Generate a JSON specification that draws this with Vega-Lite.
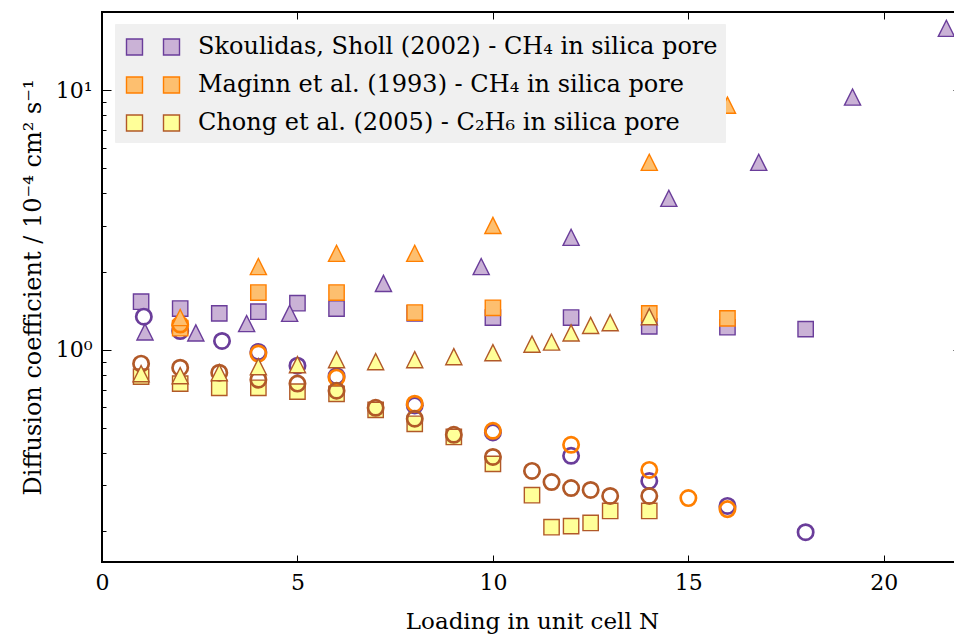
{
  "$schema": "https://vega.github.io/schema/vega-lite/v6.json",
  "autosize": {"type": "none"},
  "padding": {"left": 102, "top": 12, "right": 0, "bottom": 75},
  "width": 860,
  "height": 550,
  "background": "white",
  "config": {
    "view": {"stroke": "black", "strokeWidth": 2},
    "font": "DejaVu Serif",
    "axis": {
      "domain": false,
      "grid": false,
      "labelFlush": false,
      "tickColor": "black",
      "tickWidth": 1,
      "labelFont": "DejaVu Serif",
      "labelFontSize": 22,
      "labelColor": "black",
      "titleFont": "DejaVu Serif",
      "titleFontSize": 23,
      "titleFontWeight": "normal",
      "titleColor": "black"
    },
    "legend": {
      "labelFont": "DejaVu Serif",
      "labelFontSize": 24,
      "labelColor": "black"
    }
  },
  "datasets": {
    "diffusion": [
      {"study": "Skoulidas", "kind": "square", "N": 1, "D": 1.53},
      {"study": "Skoulidas", "kind": "square", "N": 2, "D": 1.44},
      {"study": "Skoulidas", "kind": "square", "N": 3, "D": 1.38},
      {"study": "Skoulidas", "kind": "square", "N": 4, "D": 1.40},
      {"study": "Skoulidas", "kind": "square", "N": 5, "D": 1.51},
      {"study": "Skoulidas", "kind": "square", "N": 6, "D": 1.44},
      {"study": "Skoulidas", "kind": "square", "N": 8, "D": 1.38},
      {"study": "Skoulidas", "kind": "square", "N": 10, "D": 1.33},
      {"study": "Skoulidas", "kind": "square", "N": 12, "D": 1.33},
      {"study": "Skoulidas", "kind": "square", "N": 14, "D": 1.23},
      {"study": "Skoulidas", "kind": "square", "N": 16, "D": 1.22},
      {"study": "Skoulidas", "kind": "square", "N": 18, "D": 1.20},
      {"study": "Skoulidas", "kind": "triangle", "N": 1.1, "D": 1.17},
      {"study": "Skoulidas", "kind": "triangle", "N": 2.4, "D": 1.16},
      {"study": "Skoulidas", "kind": "triangle", "N": 3.7, "D": 1.26},
      {"study": "Skoulidas", "kind": "triangle", "N": 4.8, "D": 1.38},
      {"study": "Skoulidas", "kind": "triangle", "N": 7.2, "D": 1.80},
      {"study": "Skoulidas", "kind": "triangle", "N": 9.7, "D": 2.09},
      {"study": "Skoulidas", "kind": "triangle", "N": 12, "D": 2.71},
      {"study": "Skoulidas", "kind": "triangle", "N": 14.5, "D": 3.83},
      {"study": "Skoulidas", "kind": "triangle", "N": 16.8, "D": 5.27},
      {"study": "Skoulidas", "kind": "triangle", "N": 19.2, "D": 9.40},
      {"study": "Skoulidas", "kind": "triangle", "N": 21.6, "D": 17.3},
      {"study": "Skoulidas", "kind": "circle", "N": 1.07, "D": 1.34},
      {"study": "Skoulidas", "kind": "circle", "N": 2, "D": 1.18},
      {"study": "Skoulidas", "kind": "circle", "N": 3.07, "D": 1.08},
      {"study": "Skoulidas", "kind": "circle", "N": 4, "D": 0.98},
      {"study": "Skoulidas", "kind": "circle", "N": 5, "D": 0.867},
      {"study": "Skoulidas", "kind": "circle", "N": 6, "D": 0.79},
      {"study": "Skoulidas", "kind": "circle", "N": 8, "D": 0.61},
      {"study": "Skoulidas", "kind": "circle", "N": 10, "D": 0.48},
      {"study": "Skoulidas", "kind": "circle", "N": 12, "D": 0.39},
      {"study": "Skoulidas", "kind": "circle", "N": 14, "D": 0.312},
      {"study": "Skoulidas", "kind": "circle", "N": 16, "D": 0.25},
      {"study": "Skoulidas", "kind": "circle", "N": 18, "D": 0.198},
      {"study": "Maginn", "kind": "square", "N": 2, "D": 1.21},
      {"study": "Maginn", "kind": "square", "N": 4, "D": 1.66},
      {"study": "Maginn", "kind": "square", "N": 6, "D": 1.66},
      {"study": "Maginn", "kind": "square", "N": 8, "D": 1.39},
      {"study": "Maginn", "kind": "square", "N": 10, "D": 1.45},
      {"study": "Maginn", "kind": "square", "N": 14, "D": 1.38},
      {"study": "Maginn", "kind": "square", "N": 16, "D": 1.32},
      {"study": "Maginn", "kind": "circle", "N": 2, "D": 1.25},
      {"study": "Maginn", "kind": "circle", "N": 4, "D": 0.966},
      {"study": "Maginn", "kind": "circle", "N": 6, "D": 0.78},
      {"study": "Maginn", "kind": "circle", "N": 8, "D": 0.619},
      {"study": "Maginn", "kind": "circle", "N": 10, "D": 0.487},
      {"study": "Maginn", "kind": "circle", "N": 12, "D": 0.43},
      {"study": "Maginn", "kind": "circle", "N": 14, "D": 0.344},
      {"study": "Maginn", "kind": "circle", "N": 15, "D": 0.268},
      {"study": "Maginn", "kind": "circle", "N": 16, "D": 0.243},
      {"study": "Maginn", "kind": "triangle", "N": 2, "D": 1.33},
      {"study": "Maginn", "kind": "triangle", "N": 4, "D": 2.09},
      {"study": "Maginn", "kind": "triangle", "N": 6, "D": 2.35},
      {"study": "Maginn", "kind": "triangle", "N": 8, "D": 2.35},
      {"study": "Maginn", "kind": "triangle", "N": 10, "D": 3.01},
      {"study": "Maginn", "kind": "triangle", "N": 14, "D": 5.27},
      {"study": "Maginn", "kind": "triangle", "N": 16, "D": 8.75},
      {"study": "Chong", "kind": "square", "N": 1, "D": 0.787},
      {"study": "Chong", "kind": "square", "N": 2, "D": 0.74},
      {"study": "Chong", "kind": "square", "N": 3, "D": 0.713},
      {"study": "Chong", "kind": "square", "N": 4, "D": 0.713},
      {"study": "Chong", "kind": "square", "N": 5, "D": 0.689},
      {"study": "Chong", "kind": "square", "N": 6, "D": 0.676},
      {"study": "Chong", "kind": "square", "N": 7, "D": 0.586},
      {"study": "Chong", "kind": "square", "N": 8, "D": 0.518},
      {"study": "Chong", "kind": "square", "N": 9, "D": 0.461},
      {"study": "Chong", "kind": "square", "N": 10, "D": 0.363},
      {"study": "Chong", "kind": "square", "N": 11, "D": 0.275},
      {"study": "Chong", "kind": "square", "N": 11.5, "D": 0.207},
      {"study": "Chong", "kind": "square", "N": 12, "D": 0.209},
      {"study": "Chong", "kind": "square", "N": 12.5, "D": 0.215},
      {"study": "Chong", "kind": "square", "N": 13, "D": 0.239},
      {"study": "Chong", "kind": "square", "N": 14, "D": 0.239},
      {"study": "Chong", "kind": "circle", "N": 1, "D": 0.883},
      {"study": "Chong", "kind": "circle", "N": 2, "D": 0.852},
      {"study": "Chong", "kind": "circle", "N": 3, "D": 0.815},
      {"study": "Chong", "kind": "circle", "N": 4, "D": 0.766},
      {"study": "Chong", "kind": "circle", "N": 5, "D": 0.74},
      {"study": "Chong", "kind": "circle", "N": 6, "D": 0.695},
      {"study": "Chong", "kind": "circle", "N": 7, "D": 0.597},
      {"study": "Chong", "kind": "circle", "N": 8, "D": 0.542},
      {"study": "Chong", "kind": "circle", "N": 9, "D": 0.47},
      {"study": "Chong", "kind": "circle", "N": 10, "D": 0.386},
      {"study": "Chong", "kind": "circle", "N": 11, "D": 0.341},
      {"study": "Chong", "kind": "circle", "N": 11.5, "D": 0.309},
      {"study": "Chong", "kind": "circle", "N": 12, "D": 0.293},
      {"study": "Chong", "kind": "circle", "N": 12.5, "D": 0.288},
      {"study": "Chong", "kind": "circle", "N": 13, "D": 0.273},
      {"study": "Chong", "kind": "circle", "N": 14, "D": 0.273},
      {"study": "Chong", "kind": "triangle", "N": 1, "D": 0.808},
      {"study": "Chong", "kind": "triangle", "N": 2, "D": 0.794},
      {"study": "Chong", "kind": "triangle", "N": 3, "D": 0.815},
      {"study": "Chong", "kind": "triangle", "N": 4, "D": 0.86},
      {"study": "Chong", "kind": "triangle", "N": 5, "D": 0.875},
      {"study": "Chong", "kind": "triangle", "N": 6, "D": 0.915},
      {"study": "Chong", "kind": "triangle", "N": 7, "D": 0.899},
      {"study": "Chong", "kind": "triangle", "N": 8, "D": 0.915},
      {"study": "Chong", "kind": "triangle", "N": 9, "D": 0.94},
      {"study": "Chong", "kind": "triangle", "N": 10, "D": 0.973},
      {"study": "Chong", "kind": "triangle", "N": 11, "D": 1.05},
      {"study": "Chong", "kind": "triangle", "N": 11.5, "D": 1.07},
      {"study": "Chong", "kind": "triangle", "N": 12, "D": 1.16},
      {"study": "Chong", "kind": "triangle", "N": 12.5, "D": 1.24},
      {"study": "Chong", "kind": "triangle", "N": 13, "D": 1.27},
      {"study": "Chong", "kind": "triangle", "N": 14, "D": 1.34}
    ]
  },
  "data": {"name": "diffusion"},
  "resolve": {"axis": {"x": "independent", "y": "independent"}},
  "layer": [
    {
      "mark": {"type": "point", "opacity": 1, "fillOpacity": 1, "strokeOpacity": 1},
      "encoding": {
        "x": {
          "field": "N", "type": "quantitative",
          "scale": {"domain": [0, 22], "nice": false, "zero": false},
          "axis": {
            "orient": "bottom",
            "values": [0, 5, 10, 15, 20],
            "tickSize": -7,
            "labelPadding": 17,
            "title": "Loading in unit cell N",
            "titlePadding": 17
          }
        },
        "y": {
          "field": "D", "type": "quantitative",
          "scale": {"type": "log", "domain": [0.152, 20], "nice": false},
          "axis": {
            "orient": "left",
            "values": [0.2, 0.3, 0.4, 0.5, 0.6, 0.7, 0.8, 0.9, 1, 2, 3, 4, 5, 6, 7, 8, 9, 10, 20],
            "tickSize": {"condition": {"test": "datum.value === 1 || datum.value === 10", "value": -9}, "value": -4},
            "labelExpr": "datum.value === 10 ? '10¹' : datum.value === 1 ? '10⁰' : ''",
            "labelPadding": 19,
            "title": "Diffusion coefficient / 10⁻⁴ cm² s⁻¹",
            "titleFontSize": 24,
            "titlePadding": 10
          }
        },
        "shape": {
          "field": "kind", "type": "nominal",
          "scale": {"domain": ["square", "triangle", "circle"], "range": ["square", "M0,-1L1,1L-1,1Z", "circle"]},
          "legend": null
        },
        "stroke": {
          "field": "study", "type": "nominal",
          "scale": {"domain": ["Skoulidas", "Maginn", "Chong"], "range": ["#6a3d9a", "#ff7f00", "#b15928"]},
          "legend": {
            "orient": "none",
            "legendX": 13,
            "legendY": 12,
            "title": null,
            "fillColor": "#f0f0f0",
            "strokeColor": "#f0f0f0",
            "cornerRadius": 0,
            "padding": 7,
            "rowPadding": 10,
            "symbolType": "M-1.767,-0.533H-0.7V0.533H-1.767Z M0.7,-0.533H1.767V0.533H0.7Z",
            "symbolSize": 900,
            "symbolOffset": 15,
            "symbolStrokeWidth": 1.4,
            "labelOffset": 29,
            "labelLimit": 0,
            "labelExpr": "datum.value === 'Skoulidas' ? 'Skoulidas, Sholl (2002) - CH₄ in silica pore' : datum.value === 'Maginn' ? 'Maginn et al. (1993) - CH₄ in silica pore' : 'Chong et al. (2005) - C₂H₆ in silica pore'"
          }
        },
        "fill": {
          "condition": {"test": "datum.kind === 'circle'", "value": "transparent"},
          "field": "study", "type": "nominal",
          "scale": {"domain": ["Skoulidas", "Maginn", "Chong"], "range": ["#cab2d6", "#fdbf6f", "#ffff99"]}
        },
        "strokeWidth": {
          "condition": {"test": "datum.kind === 'circle'", "value": 2.7},
          "value": 1.4
        },
        "size": {
          "condition": {"test": "datum.kind === 'triangle'", "value": 260},
          "value": 235
        }
      }
    },
    {
      "mark": {"type": "point", "opacity": 0},
      "encoding": {
        "x": {
          "field": "N", "type": "quantitative",
          "axis": {"orient": "top", "values": [5, 10, 15, 20], "tickSize": -7, "labels": false, "title": null}
        },
        "y": {
          "field": "D", "type": "quantitative",
          "axis": {
            "orient": "right",
            "values": [0.2, 0.3, 0.4, 0.5, 0.6, 0.7, 0.8, 0.9, 1, 2, 3, 4, 5, 6, 7, 8, 9, 10, 20],
            "tickSize": {"condition": {"test": "datum.value === 1 || datum.value === 10", "value": -9}, "value": -4},
            "labels": false,
            "title": null
          }
        }
      }
    }
  ]
}
